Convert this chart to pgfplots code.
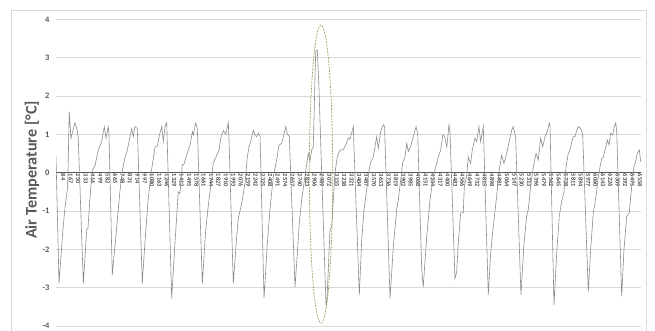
\documentclass[border=0pt]{standalone}
\usepackage{fontspec}
\setmainfont{Carlito}
\usepackage{pgfplots}
\pgfplotsset{compat=1.18}
\usepackage{pgfplotstable}
\definecolor{txt}{HTML}{595959}
\definecolor{gridc}{HTML}{D9D9D9}
\definecolor{ser}{HTML}{8C8C8C}
\definecolor{ell}{HTML}{8AA862}
\pgfplotstableread{
i v
1 0.42
35 -2.89
76 -1.57
102 -0.90
132 -0.37
150 1.59
169 0.90
214 1.30
240 1.10
251 0.90
308 -2.89
346 -1.49
360 -1.45
383 -0.63
409 0.06
439 0.19
476 0.59
514 0.81
543 1.20
562 0.90
588 1.20
596 1.00
633 -2.67
683 -1.41
720 -0.46
750 0.10
776 0.40
802 0.59
832 0.94
851 1.15
869 0.94
888 1.20
914 1.15
970 -2.89
1000 -1.80
1037 -0.67
1076 0.10
1113 0.67
1139 0.70
1158 0.94
1188 1.20
1206 0.81
1225 1.20
1244 1.30
1300 -3.28
1337 -1.84
1374 -0.50
1393 -0.55
1419 0.20
1438 0.22
1468 0.46
1506 0.72
1532 1.07
1543 0.98
1570 1.30
1588 1.15
1644 -2.89
1682 -1.49
1719 -0.70
1749 -0.18
1767 0.26
1798 0.41
1832 0.59
1851 0.90
1880 1.10
1907 1.00
1936 1.30
1944 0.81
1992 -2.89
2030 -1.66
2048 -1.20
2086 -0.80
2123 -0.28
2149 0.41
2168 0.67
2180 0.76
2217 1.10
2236 0.98
2255 0.94
2273 1.03
2292 0.95
2337 -3.28
2374 -1.84
2404 -0.96
2441 -0.10
2479 0.33
2505 0.72
2535 0.76
2554 0.94
2581 1.20
2599 1.00
2621 0.94
2685 -2.98
2711 -2.10
2733 -1.31
2760 -0.70
2786 -0.27
2809 0.12
2834 0.50
2853 0.30
2872 0.59
2890 0.67
2917 3.16
2935 3.20
2954 2.20
2977 0.50
3033 -3.45
3044 -3.30
3078 -1.50
3097 -1.40
3115 -0.70
3134 0.00
3159 0.41
3190 0.59
3220 0.59
3246 0.67
3283 0.90
3302 0.87
3339 1.20
3407 -3.19
3434 -1.75
3460 -0.96
3490 -0.44
3516 0.06
3535 0.28
3564 0.41
3602 0.94
3620 0.63
3647 1.07
3676 1.25
3690 1.20
3752 -3.28
3789 -1.93
3827 -0.96
3845 -0.70
3872 -0.18
3894 0.26
3920 0.41
3939 0.76
3957 0.55
3987 0.72
4013 0.94
4044 1.20
4063 1.00
4107 -2.50
4125 -2.98
4164 -1.66
4201 -0.70
4238 -0.10
4265 0.15
4294 0.41
4321 0.59
4344 0.98
4364 0.95
4389 0.67
4414 1.25
4425 1.07
4481 -2.76
4500 -2.60
4518 -1.84
4545 -1.05
4574 -1.05
4586 -0.36
4612 -0.10
4630 0.41
4657 0.24
4675 0.59
4705 0.90
4724 0.81
4750 1.20
4769 0.81
4799 1.20
4855 -3.19
4882 -2.10
4911 -1.40
4949 -0.62
4978 0.06
5005 0.45
5031 0.24
5061 0.50
5090 0.81
5117 1.10
5135 1.20
5162 0.94
5222 -3.19
5256 -1.84
5286 -1.14
5304 -0.96
5331 -0.36
5360 0.15
5391 0.50
5416 0.33
5443 0.90
5466 0.67
5492 0.94
5518 1.07
5540 1.30
5548 1.25
5593 -3.45
5623 -2.10
5652 -1.14
5679 -0.75
5705 -0.50
5728 0.15
5753 0.50
5772 0.59
5792 0.81
5810 0.94
5829 0.94
5848 1.10
5866 1.20
5893 1.15
5915 1.00
5978 -3.10
6005 -2.00
6034 -1.05
6065 -0.62
6091 -0.10
6110 0.15
6129 0.37
6147 0.41
6166 0.59
6192 0.85
6211 0.72
6229 1.03
6250 0.98
6270 1.20
6286 1.30
6297 1.07
6353 -3.23
6379 -2.00
6409 -1.14
6438 -1.05
6465 -0.36
6491 0.15
6514 0.33
6528 0.50
6551 0.59
6567 0.28
}\datatable
\begin{document}
\begin{tikzpicture}
\useasboundingbox (0,0) rectangle (655bp,331bp);
\draw[gridc, line width=0.75bp] (11bp,-10bp) rectangle (646.5bp,321bp);
\begin{axis}[
  at={(56bp,5bp)}, anchor=south west,
  scale only axis, width=585bp, height=306.7bp,
  xmin=1, xmax=6570, ymin=-4, ymax=4,
  axis x line=middle, axis y line=left,
  axis line style={-},
  x axis line style={draw=black!65, line width=1.4bp},
  y axis line style={draw=none},
  ytick={-4,-3,-2,-1,0,1,2,3,4},
  xtick={1,84,...,6558},
  scaled x ticks=false,
  major tick length=0pt,
  ymajorgrids, grid style={gridc, line width=0.6bp},
  /pgf/number format/assume math mode=true,
  x tick label style={/pgf/number format/.cd, fixed, precision=0, 1000 sep={}, /tikz/.cd,
    rotate=-90, anchor=west, font=\fontsize{6.3}{6.3}\selectfont\bfseries, text=black!70, inner sep=1bp},
  y tick label style={font=\fontsize{8.5}{9}\selectfont\bfseries, text=txt, anchor=east, xshift=-3bp},
  ylabel={Air Temperature [°C]},
  ylabel style={at={(axis description cs:-0.041,0.509)}, anchor=center, font=\fontsize{16.3}{20}\selectfont\bfseries, text=txt},
]
\addplot[ser, line width=0.6bp, no marks, sharp plot] table[x=i, y=v] {\datatable};
\draw[ell, dash pattern=on 2bp off 1.2bp, line width=0.7bp] (axis cs:2977,-0.04) ellipse [x radius=11.7bp, y radius=149bp];
\end{axis}
\end{tikzpicture}
\end{document}
